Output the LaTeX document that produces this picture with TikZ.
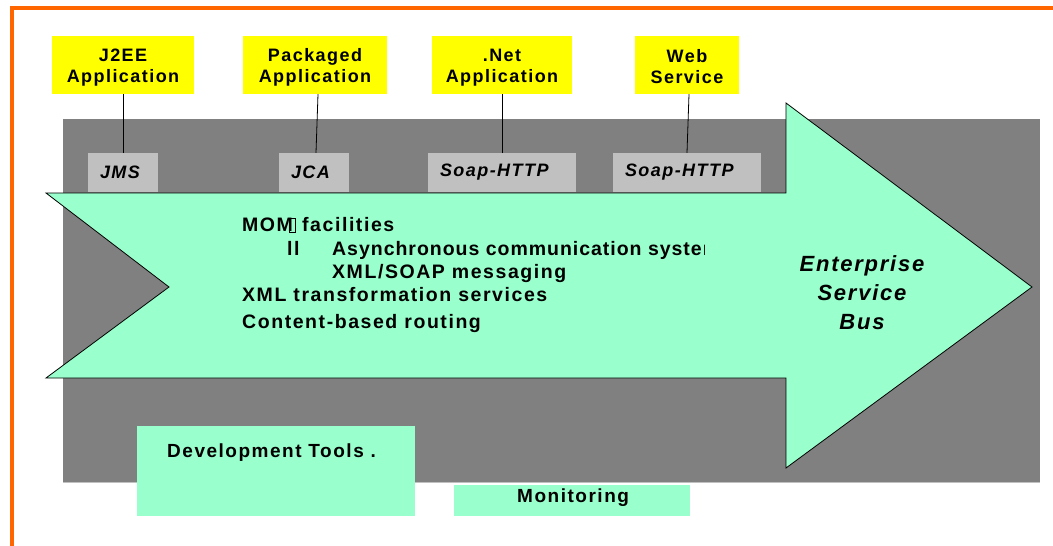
\documentclass[tikz,border=0pt]{standalone}
\usepackage{fontspec}
\setmainfont{Liberation Sans}
\newfontfamily\lsp[LetterSpace=8,Ligatures=NoCommon]{Liberation Sans}
\newfontfamily\lspnarrow[LetterSpace=5,Ligatures=NoCommon]{Liberation Sans}
\definecolor{orangeframe}{RGB}{255,102,0}
\definecolor{appyellow}{RGB}{255,255,0}
\definecolor{busgray}{RGB}{128,128,128}
\definecolor{labgray}{RGB}{192,192,192}
\definecolor{mint}{RGB}{153,255,204}
\tikzset{
  appbox/.style={fill=appyellow, minimum height=58, inner sep=0},
  apptext/.style={inner sep=0, align=center,
    font=\lsp\bfseries\fontsize{18}{20.5}\selectfont},
  labbox/.style={fill=labgray, minimum height=39, inner xsep=12, inner ysep=0, align=left,
    font=\lsp\bfseries\itshape\fontsize{18}{20}\selectfont},
  midtext/.style={anchor=base west, inner sep=0, font=\lsp\bfseries\fontsize{19.5}{22}\selectfont},
  bottext/.style={anchor=base west, inner sep=0, font=\lsp\bfseries\fontsize{19}{22}\selectfont},
  toolbox/.style={fill=mint, inner sep=0},
  link/.style={draw=black, line width=0.8pt}
}
\begin{document}
\begin{tikzpicture}[x=1pt,y=-1pt]
\useasboundingbox (0,0) rectangle (1053,546);
\fill[white] (0,0) rectangle (1053,546);
% orange frame (only top and left edges visible)
\draw[orangeframe, line width=4pt] (1053,8) -- (12,8) -- (12,546);
% gray bus background
\fill[busgray] (63,119) rectangle (1040,482);
\draw[labgray, line width=0.6pt] (63,482.3) -- (1040,482.3);
% application boxes
\node[appbox, minimum width=142] (j2ee) at (123,65) {};
\node[appbox, minimum width=144] (pkg) at (315,65) {};
\node[appbox, minimum width=140] (net) at (502,65) {};
\node[appbox, minimum width=104] (web) at (687,65) {};
\node[apptext] (j2eet) at ([yshift=-2.5pt]j2ee.center) {J2EE\\Application};
\node[apptext] (pkgt) at ([yshift=-2.5pt]pkg.center) {Packaged\\Application};
\node[apptext] (nett) at ([yshift=-2.5pt]net.center) {.Net\\Application};
\node[apptext] (webt) at ([yshift=-1.5pt]web.center) {Web\\Service};
% adapter labels
\node[labbox, text width=46] (jms) at (123,172.5) {JMS};
\node[labbox, text width=46] (jca) at (314,172.5) {JCA};
\node[labbox, text width=124] (soap1) at (502,172.5) {Soap-HTTP};
\node[labbox, text width=124] (soap2) at (687,172.5) {Soap-HTTP};
% connectors
\draw[link] (j2ee.south) -- (jms.north);
\draw[link] ([xshift=3]pkg.south) -- ([xshift=2]jca.north);
\draw[link] (net.south) -- (soap1.north);
\draw[link] ([xshift=2]web.south) -- (web.south |- soap2.north);
% big arrow
\draw[fill=mint, draw=black, line width=0.8pt, line join=miter]
  (46,193) -- (786,193) -- (786,103) -- (1032,287) -- (786,468) -- (786,378)
  -- (46,378) -- (169,287) -- cycle;
% arrow text
\node[midtext] (mom) at (242,231) {MOM};
\draw[black, line width=0.8pt] (289.5,218.5) rectangle (295,232);
\node[midtext] (fac) at (302,231) {facilities};
\node[midtext] (bul) at (287,255) {ll};
\begin{scope}
\clip (330,232) rectangle (704,262);
\node[midtext, font=\lspnarrow\bfseries\fontsize{19.5}{22}\selectfont] (async) at (332,255) {Asynchronous communication system};
\end{scope}
\node[midtext] (soapmsg) at (332,278) {XML/SOAP messaging};
\node[midtext] (xform) at (242,301) {XML transformation services};
\node[midtext] (route) at (242,328) {Content-based routing};
\node[align=center, inner sep=0, font=\lsp\bfseries\itshape\fontsize{22}{29}\selectfont]
  (esb) at (862,293) {Enterprise\\Service\\Bus};
% tool boxes
\fill[toolbox] (137,426) rectangle (415,516);
\node[bottext] (dev) at (167,457) {Development Tools .};
\fill[toolbox] (454,485) rectangle (690,516);
\node[bottext] (mon) at (517,502) {Monitoring};
\end{tikzpicture}
\end{document}
